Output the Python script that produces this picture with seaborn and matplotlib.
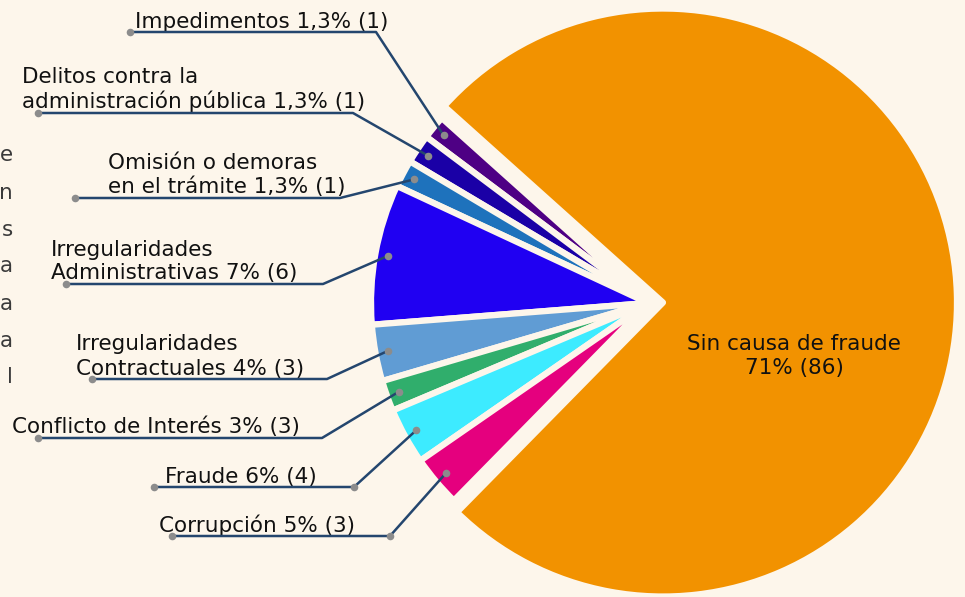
import numpy as np
import matplotlib.pyplot as plt
import seaborn as sns

# Data
categories = ['Sin causa de fraude', 'Impedimentos', 'Delitos contra la\nadministración pública',
              'Omisión o demoras\nen el trámite', 'Irregularidades\nAdministrativas',
              'Irregularidades\nContractuales', 'Conflicto de Interés', 'Fraude', 'Corrupción']
pct_labels = ['71%', '1,3%', '1,3%', '1,3%', '7%', '4%', '3%', '6%', '5%']
counts = [86, 1, 1, 1, 6, 3, 3, 4, 3]
# slice sizes as drawn in the chart (% of the circle)
shares = [75.8, 1.4, 1.7, 1.6, 8.2, 3.3, 1.8, 3.3, 3.0]
colors = ['#F29200', '#4E0084', '#1A00A6', '#1E72BC', '#2000F2',
          '#609CD4', '#30AE6C', '#3DEBFF', '#E5007E']

# label layout (pixels, y from top)
label_x = [None, 135, 22, 108, 51, 76, 12, 165, 159]
line_y = [None, 32, 113, 198, 284, 379, 438, 487, 536]
line_x0 = [None, 130, 38, 75, 66, 92, 38, 154, 172]
kink_x = [None, 376, 353, 340, 323, 327, 322, 354, 390]
fragments = ['e', 'n', 's', 'a', 'a', 'a', 'l']
fragment_y = [155, 193, 230, 266, 304, 341, 377]

bg = '#FDF6EB'
W, H = 965, 597

sns.set_theme(style='white')
plt.rcParams['font.family'] = ['DejaVu Sans']

fig = plt.figure(figsize=(W / 100, H / 100), dpi=100, facecolor=bg)
ax = fig.add_axes([0, 0, 1, 1])
ax.set_facecolor(bg)

cx, cy, r = 648, H - 303, 277
explode = [15] + [0] * (len(shares) - 1)
wedges, _ = ax.pie(shares, colors=colors, startangle=-134.5, center=(cx, cy), radius=r,
                   explode=explode, frame=True,
                   wedgeprops=dict(edgecolor=bg, linewidth=4.5, joinstyle='round'))
wedges[0].set_radius(294)

ax.set_xlim(0, W)
ax.set_ylim(0, H)
ax.set_aspect('equal')
ax.axis('off')

line_col = '#24466E'
dot_col = '#8C8C8C'
fs = 15.5

for i in range(1, len(categories)):
    w = wedges[i]
    ang = np.deg2rad((w.theta1 + w.theta2) / 2)
    axp = cx + 0.955 * r * np.cos(ang)
    ayp = cy + 0.955 * r * np.sin(ang)
    ly = H - line_y[i]
    ax.plot([line_x0[i], kink_x[i], axp], [ly, ly, ayp], color=line_col, lw=1.8,
            solid_capstyle='round', zorder=4)
    pts_x = [line_x0[i], axp]
    pts_y = [ly, ayp]
    if i >= 7:
        pts_x.append(kink_x[i])
        pts_y.append(ly)
    ax.scatter(pts_x, pts_y, s=30, color=dot_col, zorder=5, linewidths=0)
    ax.text(label_x[i], ly + 0.5, f'{categories[i]} {pct_labels[i]} ({counts[i]})',
            ha='left', va='bottom', fontsize=fs, color='#111111', linespacing=1.25)

ax.text(794, H - 356, f'{categories[0]}\n{pct_labels[0]} ({counts[0]})', ha='center', va='center',
        fontsize=fs, color='#111111', linespacing=1.25)

# letters of a paragraph that sits at the left edge
for ch, fy in zip(fragments, fragment_y):
    ax.text(13, H - fy, ch, ha='right', va='center', fontsize=fs, color='#3A3A3A')

fig.savefig('out.png', dpi=100, facecolor=bg)
